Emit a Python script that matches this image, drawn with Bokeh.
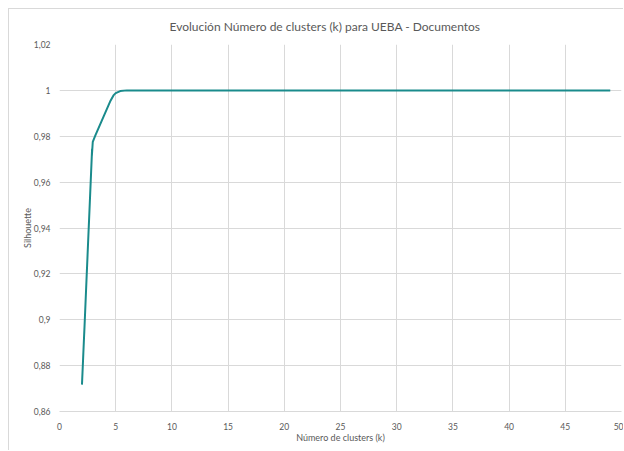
from bokeh.plotting import figure
from bokeh.models import FixedTicker, CustomJSTickFormatter, Range1d
from bokeh.embed import file_html
from bokeh.resources import INLINE

# ---- data ----
k_values = [2.0, 2.12, 2.10, 2.22, 2.20, 2.45, 2.43, 2.62, 2.60, 2.90, 2.88, 2.96,
            3.2, 4.54, 4.8, 5.0, 5.4, 6.0, 8, 10, 15, 20, 25, 30, 35, 40, 45, 49]
silhouette = [0.8717, 0.8852, 0.8830, 0.8965, 0.8940, 0.9230, 0.9205, 0.9425, 0.9400,
              0.9745, 0.9715, 0.9775, 0.9805, 0.9955, 0.9978, 0.9988, 0.9997, 1.0,
              1.0, 1.0, 1.0, 1.0, 1.0, 1.0, 1.0, 1.0, 1.0, 1.0]

x_ticks = [0, 5, 10, 15, 20, 25, 30, 35, 40, 45, 50]
x_tick_labels = ["0", "5", "10", "15", "20", "25", "30", "35", "40", "45", "50"]
y_ticks = [0.86, 0.88, 0.90, 0.92, 0.94, 0.96, 0.98, 1.00, 1.02]
y_tick_labels = ["0,86", "0,88", "0,9", "0,92", "0,94", "0,96", "0,98", "1", "1,02"]

title_text = "Evolución Número de clusters (k) para UEBA - Documentos"
x_title = "Número de clusters (k)"
y_title = "Silhouette"

FONT = "Lato"
TXT = "#595959"
GRID = "#d9d9d9"
LINE = "#1a8b8c"

p = figure(width=615, height=442, output_backend="svg", toolbar_location=None,
           x_range=Range1d(0, 50), y_range=Range1d(0.86, 1.02),
           min_border_left=50, min_border_right=3, min_border_top=35, min_border_bottom=40)
p.styles = {"margin-left": "8px", "margin-top": "8px",
            "border-left": "1px solid #d9d9d9", "border-top": "1px solid #d9d9d9"}
p.outline_line_color = None
p.background_fill_color = "white"
p.border_fill_color = "white"

p.line(k_values, silhouette, line_color=LINE, line_width=2)

fmt_code = "const i = tvals.indexOf(tick); return i >= 0 ? tlabels[i] : '';"
p.xaxis.ticker = FixedTicker(ticks=x_ticks)
p.xaxis.formatter = CustomJSTickFormatter(args=dict(tvals=x_ticks, tlabels=x_tick_labels), code=fmt_code)
p.yaxis.ticker = FixedTicker(ticks=y_ticks)
p.yaxis.formatter = CustomJSTickFormatter(args=dict(tvals=y_ticks, tlabels=y_tick_labels), code=fmt_code)

for ax in (p.xaxis[0], p.yaxis[0]):
    ax.major_tick_line_color = None
    ax.minor_tick_line_color = None
    ax.major_label_text_font = FONT
    ax.major_label_text_font_size = "8.5px"
    ax.major_label_text_color = TXT
    ax.axis_label_text_font = FONT
    ax.axis_label_text_font_size = "9px"
    ax.axis_label_text_color = TXT
    ax.axis_label_text_font_style = "normal"

p.xaxis.axis_label = x_title
p.yaxis.axis_label = y_title
p.xaxis.axis_line_color = GRID
p.yaxis.axis_line_color = None
p.xaxis.major_label_standoff = 5
p.yaxis.major_label_standoff = 3
p.xaxis.axis_label_standoff = -1
p.yaxis.axis_label_standoff = -2

p.xgrid.grid_line_color = GRID
p.ygrid.grid_line_color = GRID
p.xgrid.ticker = FixedTicker(ticks=x_ticks)
p.ygrid.ticker = FixedTicker(ticks=y_ticks)

p.title.text = title_text
p.title.align = "left"
p.title.offset = 110
p.title.vertical_align = "top"
p.title.text_font = FONT
p.title.text_font_size = "12px"
p.title.text_font_style = "normal"
p.title.text_color = TXT
p.title.standoff = 17

open("out.html", "w").write(file_html(p, INLINE))
